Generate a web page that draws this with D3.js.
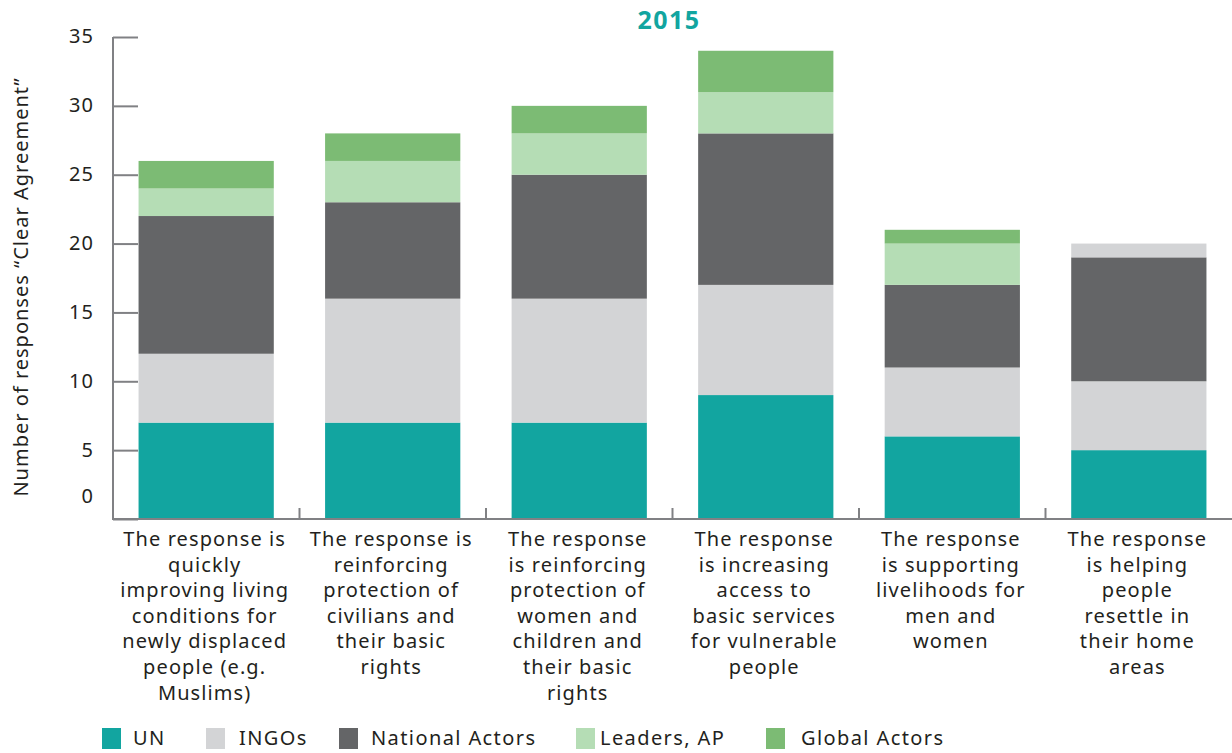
<!DOCTYPE html>
<html>
<head>
<meta charset="utf-8">
<script src="https://cdn.jsdelivr.net/npm/d3@7"></script>
<style>
  html, body { margin:0; padding:0; background:#fff; }
  svg { display:block; font-family:"Noto Sans", "Open Sans", sans-serif; }
</style>
</head>
<body>
<svg id="chart" width="1232" height="753"></svg>
<script>
const categories = [
  ["The response is","quickly","improving living","conditions for","newly displaced","people (e.g.","Muslims)"],
  ["The response is","reinforcing","protection of","civilians and","their basic","rights"],
  ["The response","is reinforcing","protection of","women and","children and","their basic","rights"],
  ["The response","is increasing","access to","basic services","for vulnerable","people"],
  ["The response","is supporting","livelihoods for","men and","women"],
  ["The response","is helping","people","resettle in","their home","areas"]
];
const seriesNames = ["UN","INGOs","National Actors","Leaders, AP","Global Actors"];
const UN       = [7, 7, 7, 9, 6, 5];
const INGOs    = [5, 9, 9, 8, 5, 5];
const National = [10, 7, 9, 11, 6, 9];
const Leaders  = [2, 3, 3, 3, 3, 1];
const Global   = [2, 2, 2, 3, 1, 0];
const yTicks = [0, 5, 10, 15, 20, 25, 30, 35];

const COLORS = ["#12a5a0", "#d3d4d6", "#646567", "#b5ddb5", "#7cbb74"];
// the last bar's top segment is drawn in the INGOs grey in the original
const fillOverride = { "5-3": "#d3d4d6" };

const svg = d3.select("#chart");
const m = { left:113, right:0, top:37, bottom:519 };

const x = d3.scaleBand().domain(d3.range(categories.length)).range([m.left, 1232]).paddingInner(0.275).paddingOuter(0.137);
const y = d3.scaleLinear().domain([0, 35]).range([m.bottom, m.top]);

const rows = categories.map((c, i) => ({ i, s0:UN[i], s1:INGOs[i], s2:National[i], s3:Leaders[i], s4:Global[i] }));
const stack = d3.stack().keys(["s0","s1","s2","s3","s4"])(rows);

const axisCol = "#808184";
const txtCol = "#231f20";

// y ticks (drawn inward, behind bars)
const yAx = svg.append("g").attr("transform", `translate(${m.left},0)`)
  .call(d3.axisRight(y).tickValues(yTicks).tickSize(25).tickFormat(""));
yAx.select(".domain").remove();
yAx.selectAll("line").attr("stroke", axisCol).attr("stroke-width", 2);

svg.append("g").selectAll("text").data(yTicks).enter().append("text")
  .attr("x", 94).attr("y", d => d === 0 ? y(d) - 21 : y(d) + 1)
  .attr("text-anchor","end").attr("dominant-baseline","middle")
  .attr("fill", txtCol).style("font-size","20px").style("letter-spacing","1px").text(d => d);

// bars
svg.append("g").selectAll("g").data(stack).enter().append("g")
  .each(function(layer, k){
    d3.select(this).selectAll("rect").data(layer.filter(d => d[1] > d[0])).enter().append("rect")
      .attr("x", d => x(d.data.i)).attr("width", x.bandwidth())
      .attr("y", d => y(d[1])).attr("height", d => y(d[0]) - y(d[1]))
      .attr("fill", d => fillOverride[`${d.data.i}-${k}`] || COLORS[k]);
  });

// axis lines
svg.append("line").attr("x1", m.left).attr("x2", m.left).attr("y1", m.top).attr("y2", m.bottom + 1)
  .attr("stroke", axisCol).attr("stroke-width", 2);
svg.append("line").attr("x1", m.left - 1).attr("x2", 1232).attr("y1", m.bottom).attr("y2", m.bottom)
  .attr("stroke", axisCol).attr("stroke-width", 2);
svg.append("g").selectAll("line").data(d3.range(1, categories.length)).enter().append("line")
  .attr("x1", d => m.left + d * (1232 - m.left) / categories.length)
  .attr("x2", d => m.left + d * (1232 - m.left) / categories.length)
  .attr("y1", m.bottom).attr("y2", m.bottom - 11)
  .attr("stroke", axisCol).attr("stroke-width", 2);

// category labels
const lab = svg.append("g").selectAll("text").data(categories).enter().append("text")
  .attr("text-anchor","middle").attr("fill", txtCol)
  .style("font-size","20px").style("letter-spacing","1.1px");
lab.each(function(lines, i){
  d3.select(this).selectAll("tspan").data(lines).enter().append("tspan")
    .attr("x", x(i) + x.bandwidth()/2 - 1.5).attr("y", (d, j) => 546 + j * 25.6)
    .text(d => d);
});

// y title
svg.append("text").attr("transform","translate(28,287) rotate(-90)")
  .attr("text-anchor","middle").attr("fill", txtCol)
  .style("font-size","20px").style("letter-spacing","1px")
  .text("Number of responses \u201cClear Agreement\u201d");

// title
svg.append("text").attr("x", 669).attr("y", 29).attr("text-anchor","middle")
  .attr("fill","#12a5a0").style("font-size","25px").style("font-weight","bold")
  .style("letter-spacing","1.5px").text("2015");

// legend
const legX = [102, 206, 339, 576, 766];
const leg = svg.append("g").selectAll("g").data(seriesNames).enter().append("g")
  .attr("transform", (d, i) => `translate(${legX[i]},728)`);
leg.append("rect").attr("width", 19).attr("height", 21).attr("fill", (d, i) => COLORS[i]);
leg.append("text").attr("x", (d, i) => [31, 33, 32, 24, 35][i]).attr("y", 17)
  .attr("fill", txtCol).style("font-size","20px").style("letter-spacing","1.4px").text(d => d);
</script>
</body>
</html>
